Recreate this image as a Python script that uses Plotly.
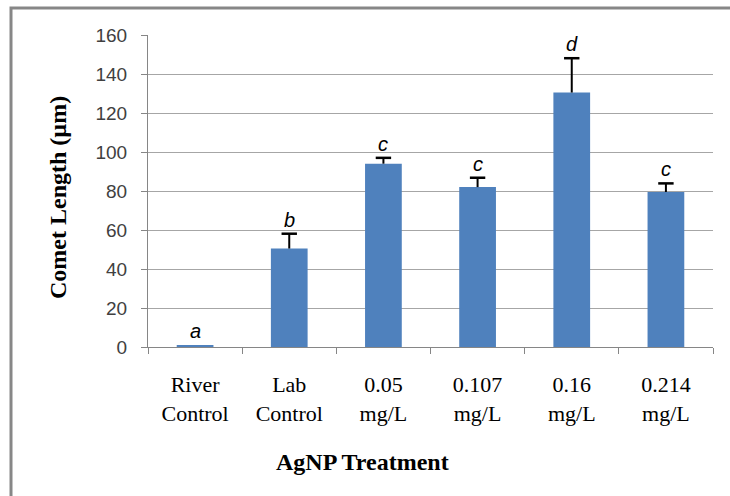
import plotly.graph_objects as go

categories = ["River<br>Control", "Lab<br>Control", "0.05<br>mg/L", "0.107<br>mg/L", "0.16<br>mg/L", "0.214<br>mg/L"]
means = [1.0, 50.5, 94.0, 82.0, 130.5, 79.5]
errors = [0.0, 7.6, 3.0, 4.8, 17.6, 4.4]
letters = ["a", "b", "c", "c", "d", "c"]
y_ticks = [0, 20, 40, 60, 80, 100, 120, 140, 160]

W, H = 730, 496
L, R, T, B = 148, 17, 35, 149
pw, ph = W - L - R, H - T - B

fig = go.Figure()
fig.add_trace(go.Bar(
    x=categories, y=means,
    marker=dict(color="#4f81bd", line=dict(width=0)),
    width=0.39,
))

# error bars: stem from bar top upward, cap only at the top
stem_x, stem_y = [], []
for c, m, e in zip(categories, means, errors):
    if e > 0:
        stem_x += [c, c, None]
        stem_y += [m, m + e, None]
fig.add_trace(go.Scatter(x=stem_x, y=stem_y, mode="lines",
                         line=dict(color="#000000", width=2), hoverinfo="skip"))
cap_x = [c for c, e in zip(categories, errors) if e > 0]
cap_y = [m + e for m, e in zip(means, errors) if e > 0]
fig.add_trace(go.Scatter(x=cap_x, y=cap_y, mode="markers",
                         marker=dict(symbol="line-ew", size=11, line=dict(color="#000000", width=2.5)),
                         hoverinfo="skip"))

for c, m, e, t in zip(categories, means, errors, letters):
    fig.add_annotation(x=c, y=m + e, text="<i>%s</i>" % t, showarrow=False,
                       xref="x", yref="y", yanchor="bottom", yshift=1,
                       font=dict(family="Liberation Sans", size=20, color="#000000"))

# axis titles
fig.add_annotation(text="<b>Comet Length (µm)</b>", textangle=-90, showarrow=False,
                   xref="paper", yref="paper", x=(58 - L) / pw, y=(H - B - 198) / ph,
                   xanchor="center", yanchor="middle",
                   font=dict(family="Liberation Serif", size=24, color="#000000"))
fig.add_annotation(text="<b>AgNP Treatment</b>", showarrow=False,
                   xref="paper", yref="paper", x=(362 - L) / pw, y=-(462 - (H - B)) / ph,
                   xanchor="center", yanchor="middle",
                   font=dict(family="Liberation Serif", size=24, color="#000000"))

# outer chart border
fig.add_shape(type="rect", xref="paper", yref="paper",
              x0=(11 - L) / pw, x1=(W + 30 - L) / pw,
              y0=-(B + 10) / ph, y1=1 + (T - 8) / ph,
              line=dict(color="#878787", width=3), fillcolor="rgba(0,0,0,0)", layer="below")

fig.update_layout(
    width=W, height=H,
    margin=dict(l=L, r=R, t=T, b=B),
    paper_bgcolor="white", plot_bgcolor="white",
    showlegend=False,
    xaxis=dict(type="category", showgrid=False, showline=True, linecolor="#868686", linewidth=1,
               ticks="outside", tickson="boundaries", ticklen=6, tickcolor="#868686",
               ticklabelstandoff=18,
               tickfont=dict(family="Liberation Serif", size=22, color="#000000"),
               range=[-0.5, 5.5]),
    yaxis=dict(range=[0, 160], tickvals=y_ticks, showgrid=True, gridcolor="#a6a6a6", gridwidth=1,
               showline=True, linecolor="#868686", linewidth=1, zeroline=False,
               ticks="outside", ticklen=6, tickcolor="#868686",
               ticklabelstandoff=10,
               tickfont=dict(family="Liberation Sans", size=19, color="#404040")),
)

fig.write_html("out.html")
